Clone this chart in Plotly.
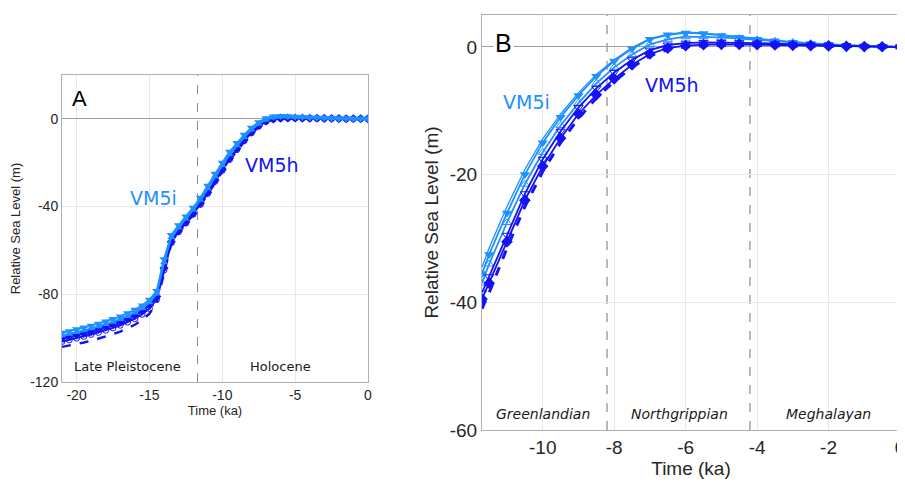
import plotly.graph_objects as go

# ---------------- data ----------------
time_A = [-21, -20.5, -20, -19.5, -19, -18.5, -18, -17.5, -17, -16.5, -16, -15.5, -15, -14.5,
          -14, -13.5, -13, -12.5, -12, -11.5, -11, -10.5, -10, -9.5, -9, -8.5, -8, -7.5, -7,
          -6.5, -6, -5.5, -5, -4.5, -4, -3.5, -3, -2.5, -2, -1.5, -1, -0.5, 0]

vm5i_A_tri = [-97.5, -96.8, -96, -95.2, -94.3, -93.4, -92.4, -91.3, -90.1, -88.7, -87.1, -85.1, -82.5, -78.5,
              -64, -53, -48.5, -44.5, -40.5, -36, -30.5, -25, -20, -15, -11, -7.3, -4, -1.5, 0.3,
              1.1, 1.3, 1.2, 1.0, 0.8, 0.6, 0.5, 0.4, 0.3, 0.2, 0.15, 0.1, 0.05, 0]
vm5i_A_circ = [-98.8, -98.1, -97.3, -96.5, -95.6, -94.7, -93.7, -92.6, -91.4, -90, -88.4, -86.4, -83.8, -79.8,
               -65.5, -54, -49.5, -45.5, -41.5, -37, -31.8, -26.3, -21.2, -16.3, -12.2, -8.4, -5, -2.3, -0.4,
               0.6, 1, 1, 0.9, 0.75, 0.6, 0.5, 0.4, 0.3, 0.2, 0.15, 0.1, 0.05, 0]
vm5h_A_dia = [-100, -99.3, -98.5, -97.7, -96.8, -95.9, -94.9, -93.8, -92.6, -91.2, -89.6, -87.6, -85, -81,
              -68, -56, -51, -47, -43, -38.5, -33.5, -28, -23, -18, -13.5, -9.5, -6, -3, -1,
              0, 0.3, 0.4, 0.4, 0.35, 0.3, 0.25, 0.2, 0.15, 0.1, 0.08, 0.05, 0.02, 0]
vm5h_A_circ = [-101.5, -100.8, -100, -99.2, -98.3, -97.4, -96.4, -95.3, -94.1, -92.7, -91.1, -89.1, -86.5, -82.3,
               -69, -56.5, -51.5, -47.5, -43.5, -39, -34, -28.5, -23.5, -18.5, -14, -10, -6.4, -3.3, -1.2,
               -0.2, 0.2, 0.3, 0.3, 0.3, 0.25, 0.2, 0.15, 0.12, 0.1, 0.06, 0.04, 0.02, 0]
vm5h_A_dash = [-104, -103.4, -102.7, -102, -101.2, -100.3, -99.3, -98.2, -97, -95.6, -93.9, -91.7, -88.8, -84,
               -70, -57, -52, -48, -44, -39.5, -34.5, -29, -24, -19, -14.5, -10.5, -6.8, -3.6, -1.4,
               -0.3, 0.1, 0.2, 0.2, 0.2, 0.18, 0.15, 0.12, 0.1, 0.08, 0.05, 0.03, 0.01, 0]

time_B = [-11.7, -11.5, -11, -10.5, -10, -9.5, -9, -8.5, -8, -7.5, -7, -6.5, -6, -5.5, -5,
          -4.5, -4, -3.5, -3, -2.5, -2, -1.5, -1, -0.5, 0]

vm5i_B_top = [-34.5, -31.5, -25, -19.2, -14.4, -10.5, -7.2, -4.3, -2, -0.1, 1.3, 2.0, 2.3, 2.2, 1.9,
              1.6, 1.3, 1.0, 0.8, 0.6, 0.42, 0.28, 0.16, 0.06, 0]
vm5i_B_tri = [-35.5, -32.5, -26, -20, -15, -11, -7.6, -4.6, -2.2, -0.3, 1.2, 1.9, 2.2, 2.1, 1.8,
              1.5, 1.2, 0.95, 0.75, 0.55, 0.4, 0.25, 0.15, 0.05, 0]
vm5i_B_circ = [-37, -34, -27.5, -21.5, -16.5, -12.3, -8.8, -5.7, -3.2, -1.2, 0.4, 1.2, 1.6, 1.6, 1.5,
               1.3, 1.1, 0.9, 0.7, 0.5, 0.35, 0.22, 0.12, 0.05, 0]
vm5h_B_tri = [-38.5, -36, -29.5, -23, -17.6, -13.2, -9.5, -6.5, -4, -2, -0.5, 0.3, 0.6, 0.7, 0.7,
              0.65, 0.6, 0.5, 0.4, 0.3, 0.2, 0.15, 0.08, 0.03, 0]
vm5h_B_dia = [-39.5, -37, -30.5, -24, -18.7, -14.3, -10.5, -7.5, -5, -2.8, -1.1, -0.2, 0.2, 0.35, 0.4,
              0.4, 0.35, 0.3, 0.25, 0.2, 0.15, 0.1, 0.06, 0.03, 0]
vm5h_B_dash = [-41, -38.5, -31.5, -25, -19.5, -15, -11.2, -8, -5.4, -3.2, -1.4, -0.4, 0, 0.2, 0.25,
               0.25, 0.25, 0.2, 0.18, 0.15, 0.1, 0.08, 0.05, 0.02, 0]

ticks_A_x = [-20, -15, -10, -5, 0]
ticks_A_y = [-120, -80, -40, 0]
ticks_B_x = [-10, -8, -6, -4, -2, 0]
ticks_B_y = [-60, -40, -20, 0]

boundaries_A = [-11.7]
boundaries_B = [-8.2, -4.2]
periods_A = ["Late Pleistocene", "Holocene"]
periods_A_x = [-16.5, -6.0]
periods_B = ["Greenlandian", "Northgrippian", "Meghalayan"]
periods_B_x = [-10.0, -6.18, -1.99]

LIGHT = "#1E90FF"
DARK = "#1212F5"
SANS = "Liberation Sans, Arial, sans-serif"
TF = "DejaVu Sans, Verdana, sans-serif"
TICKC = "#262626"

OFF = 8  # page body margin
W, H = 905 - OFF, 483 - OFF


def dx(p0, p1):
    return [(p0 - OFF) / W, min(1.0, (p1 - OFF) / W)]


def dy(top, bottom):
    return [1 - (bottom - OFF) / H, 1 - (top - OFF) / H]


def lab(v):
    return [str(t) for t in v]


fig = go.Figure()


def add(x, y, color, marker, xa, ya, msize, width, dash="solid", mode="lines+markers"):
    fig.add_trace(go.Scatter(
        x=x, y=y, mode=mode, xaxis=xa, yaxis=ya, showlegend=False,
        line=dict(color=color, width=width, dash=dash),
        marker=dict(symbol=marker, size=msize, color=color),
    ))


# Panel A
add(time_A, vm5h_A_dash, DARK, "circle", "x", "y", 1, 2.4, dash="dash", mode="lines")
add(time_A, vm5h_A_circ, DARK, "circle-open", "x", "y", 6, 2)
add(time_A, vm5h_A_dia, DARK, "diamond", "x", "y", 7, 2)
add(time_A, vm5i_A_circ, LIGHT, "triangle-up", "x", "y", 7, 2)
add(time_A, vm5i_A_tri, LIGHT, "triangle-down", "x", "y", 8, 2)

# Panel B
add(time_B, vm5i_B_top, LIGHT, "circle", "x2", "y2", 1, 1.3, mode="lines")
add(time_B, vm5i_B_circ, LIGHT, "triangle-up-open", "x2", "y2", 8, 1.8)
add(time_B, vm5i_B_tri, LIGHT, "triangle-down", "x2", "y2", 9, 1.8)
add(time_B, vm5h_B_dash, DARK, "circle", "x2", "y2", 1, 3, dash="dash", mode="lines")
add(time_B, vm5h_B_tri, DARK, "triangle-down-open", "x2", "y2", 8, 1.8)
add(time_B, vm5h_B_dia, DARK, "diamond", "x2", "y2", 9, 1.8)

axis_common = dict(showgrid=True, gridcolor="#e8e8e8", gridwidth=1, showline=True,
                   linecolor="#b0b0b0", linewidth=1, mirror=True, ticks="", automargin=False,
                   ticklabeloverflow="allow")

fig.update_layout(
    width=W, height=H,
    margin=dict(l=0, r=0, t=0, b=0, autoexpand=False),
    paper_bgcolor="white", plot_bgcolor="white",
    xaxis=dict(axis_common, domain=dx(62, 368), range=[-21, 0],
               tickvals=ticks_A_x, ticktext=lab(ticks_A_x), zeroline=False,
               tickfont=dict(size=14, family=SANS, color=TICKC),
               title=dict(text="Time (ka)", standoff=2, font=dict(size=13, family=SANS, color=TICKC))),
    yaxis=dict(axis_common, domain=dy(75, 382), range=[-120, 20],
               tickvals=ticks_A_y, ticktext=lab(ticks_A_y),
               zeroline=True, zerolinecolor="#a0a0a0", zerolinewidth=1,
               tickfont=dict(size=14, family=SANS, color=TICKC),
               title=dict(text="Relative Sea Level (m)", standoff=8,
                          font=dict(size=13, family=SANS, color=TICKC))),
    xaxis2=dict(axis_common, domain=dx(482, 900), range=[-11.7, 0], anchor="y2",
                tickvals=ticks_B_x, ticktext=lab(ticks_B_x), zeroline=False,
                tickfont=dict(size=19, family=SANS, color=TICKC),
                title=dict(text="Time (ka)", standoff=2, font=dict(size=19, family=SANS, color=TICKC))),
    yaxis2=dict(axis_common, domain=dy(15, 430), range=[-60, 5], anchor="x2",
                tickvals=ticks_B_y, ticktext=lab(ticks_B_y),
                zeroline=True, zerolinecolor="#a0a0a0", zerolinewidth=1,
                tickfont=dict(size=19, family=SANS, color=TICKC),
                title=dict(text="Relative Sea Level (m)", standoff=6,
                           font=dict(size=19, family=SANS, color=TICKC))),
)

shapes = []
for b in boundaries_A:
    shapes.append(dict(type="line", xref="x", yref="y domain", x0=b, x1=b, y0=0, y1=1,
                       line=dict(color="#8a8a8a", width=1, dash="dash"), layer="below"))
for b in boundaries_B:
    shapes.append(dict(type="line", xref="x2", yref="y2 domain", x0=b, x1=b, y0=0, y1=1,
                       line=dict(color="#8a8a8a", width=1.2, dash="dash"), layer="below"))
fig.update_layout(shapes=shapes)

ann = [
    dict(x=-19.8, y=9.5, xref="x", yref="y", text="A", showarrow=False,
         font=dict(size=22, family=SANS, color="black")),
    dict(x=-14.7, y=-36, xref="x", yref="y", text="VM5i", showarrow=False,
         font=dict(size=19, family=TF, color=LIGHT)),
    dict(x=-6.6, y=-21, xref="x", yref="y", text="VM5h", showarrow=False,
         font=dict(size=19, family=TF, color=DARK)),
    dict(x=-11.1, y=0.6, xref="x2", yref="y2", text="B", showarrow=False, bgcolor="white",
         font=dict(size=25, family=SANS, color="black")),
    dict(x=-10.46, y=-8.6, xref="x2", yref="y2", text="VM5i", showarrow=False,
         font=dict(size=19, family=TF, color=LIGHT)),
    dict(x=-6.38, y=-5.9, xref="x2", yref="y2", text="VM5h", showarrow=False,
         font=dict(size=19, family=TF, color=DARK)),
]
for name, px in zip(periods_A, periods_A_x):
    ann.append(dict(x=px, y=-113, xref="x", yref="y", text=name, showarrow=False,
                    font=dict(size=13, family=TF, color="#1a1a1a")))
for name, px in zip(periods_B, periods_B_x):
    ann.append(dict(x=px, y=-57.5, xref="x2", yref="y2", text="<i>" + name + "</i>", showarrow=False,
                    font=dict(size=14, family=TF, color="#1a1a1a")))
fig.update_layout(annotations=ann)

fig.write_html("out.html")
